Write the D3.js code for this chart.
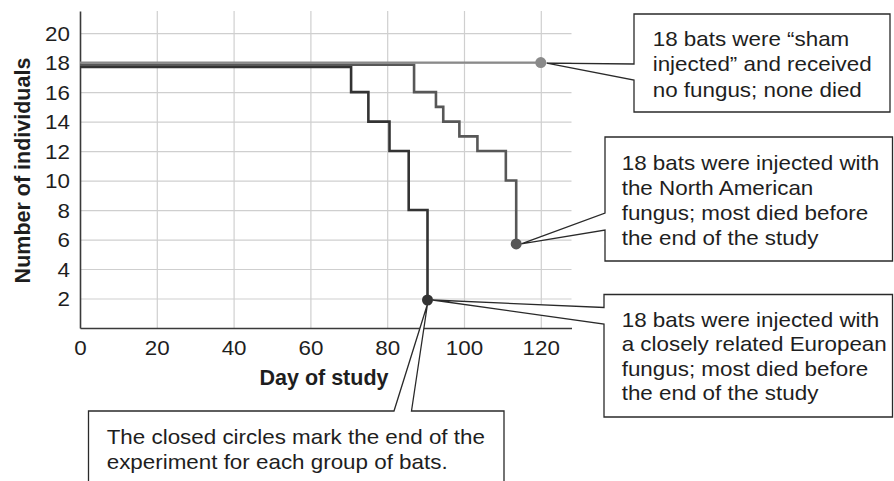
<!DOCTYPE html>
<html lang="en">
<head>
<meta charset="utf-8">
<title>Bat survival</title>
<script src="https://cdn.jsdelivr.net/npm/d3@7"></script>
<style>
    body { margin: 0; background: #fff; }
    text { font-family: "Liberation Sans", Arial, Helvetica, sans-serif; fill: #1e1e1e; }
    .grid line { stroke: #cfcfcf; stroke-width: 1.2; }
    .grid path { display: none; }
    .axis path { stroke: #3a3a3a; stroke-width: 1.6; }
    .box { fill: #fff; stroke: #2a2a2a; stroke-width: 1.3; }
</style>
</head>
<body>
<script>

    // tick values
    var xTicks = [0, 20, 40, 60, 80, 100, 120];
    var yTicks = [2, 4, 6, 8, 10, 12, 14, 16, 18, 20];

    // survival steps: [day, number of bats alive]
    var shamSteps = [[0, 18], [120, 18]];
    var northAmSteps = [[0, 17.85], [87, 16], [92.7, 15], [94.6, 14], [98.8, 13], [103.5, 12], [110.9, 10], [113.6, 5.7]];
    var europeSteps = [[0, 17.7], [70.6, 16], [75.1, 14], [80.6, 12], [85.6, 8], [90.5, 1.9]];

    // end of experiment for each group
    var endPoints = [
        {name: "sham", day: 120, n: 18},
        {name: "na", day: 113.6, n: 5.7},
        {name: "eu", day: 90.5, n: 1.9}
    ];

    var colors = {sham: "#8a8a8a", na: "#575757", eu: "#333333"};

    var W = 894, H = 481;
    var sx = 1.12; // the text in the figure is a bit wide

    var svg = d3.select("body").append("svg")
        .attr("width", W)
        .attr("height", H);

    var x = d3.scaleLinear().domain([0, 128]).range([80, 571.5]);
    var y = d3.scaleLinear().domain([0, 21.5]).range([328, 11]);

    // grid
    svg.append("g")
        .attr("class", "grid")
        .attr("transform", "translate(0," + y(0) + ")")
        .call(d3.axisBottom(x).tickValues(xTicks.slice(1)).tickSize(-(y(0) - y(21.5))).tickFormat(""));

    svg.append("g")
        .attr("class", "grid")
        .attr("transform", "translate(" + x(0) + ",0)")
        .call(d3.axisLeft(y).tickValues(yTicks).tickSize(-(x(128) - x(0))).tickFormat(""));

    // axes
    var xAxis = svg.append("g")
        .attr("class", "axis")
        .attr("transform", "translate(0," + y(0) + ")")
        .call(d3.axisBottom(x).tickValues(xTicks).tickSize(0).tickPadding(13).tickSizeOuter(0));

    var yAxis = svg.append("g")
        .attr("class", "axis")
        .attr("transform", "translate(" + x(0) + ",0)")
        .call(d3.axisLeft(y).tickValues(yTicks).tickSize(0).tickPadding(9).tickSizeOuter(0));

    svg.selectAll(".axis text")
        .attr("font-size", 20)
        .style("font-family", null)
        .attr("fill", "#1e1e1e")
        .attr("transform", "scale(" + sx + ",1)");

    yAxis.selectAll("text").attr("dy", "0.36em");

    // axis titles
    svg.append("text")
        .attr("x", 324)
        .attr("y", 385)
        .attr("text-anchor", "middle")
        .attr("font-size", 21.5)
        .attr("font-weight", "bold")
        .text("Day of study");

    svg.append("text")
        .attr("transform", "translate(29.5,170.5) rotate(-90)")
        .attr("text-anchor", "middle")
        .attr("font-size", 21.5)
        .attr("font-weight", "bold")
        .text("Number of individuals");

    // step lines
    var line = d3.line()
        .x(function (d) { return x(d[0]); })
        .y(function (d) { return y(d[1]); })
        .curve(d3.curveStepAfter);

    svg.append("path")
        .datum(europeSteps)
        .attr("d", line)
        .attr("fill", "none")
        .attr("stroke", colors.eu)
        .attr("stroke-width", 2.6);

    svg.append("path")
        .datum(northAmSteps)
        .attr("d", line)
        .attr("fill", "none")
        .attr("stroke", colors.na)
        .attr("stroke-width", 2.6);

    svg.append("path")
        .datum(shamSteps)
        .attr("d", line)
        .attr("fill", "none")
        .attr("stroke", colors.sham)
        .attr("stroke-width", 2.2);

    // callout boxes (drawn before the dots so the dots stay on top)
    function pt(name) {
        var e = endPoints.filter(function (d) { return d.name === name; })[0];
        return [x(e.day), y(e.n)];
    }

    var ps = pt("sham"), pn = pt("na"), pe = pt("eu");

    var boxes = [
        {
            path: "M634,14H890V112H634V80L" + (ps[0] + 6) + "," + (ps[1] + 0.5) + "L634,64Z",
            tx: 652.7, ty: 46, lh: 25.3,
            lines: ["18 bats were \u201csham", "injected\u201d and received", "no fungus; none died"]
        },
        {
            path: "M605,137H892.5V261H605V230L" + (pn[0] + 5) + "," + pn[1] + "L605,213Z",
            tx: 621.7, ty: 170, lh: 25,
            lines: ["18 bats were injected with", "the North American", "fungus; most died before", "the end of the study"]
        },
        {
            path: "M604,294.5H892.5V417H604V324L" + (pe[0] + 5) + "," + pe[1] + "L604,307.5Z",
            tx: 621.7, ty: 327, lh: 24.5,
            lines: ["18 bats were injected with", "a closely related European", "fungus; most died before", "the end of the study"]
        },
        {
            path: "M88.5,495V411H394L" + pe[0] + "," + (pe[1] + 4) + "L411.5,411H504V495",
            tx: 106.7, ty: 444, lh: 25.3,
            lines: ["The closed circles mark the end of the", "experiment for each group of bats."]
        }
    ];

    boxes.forEach(function (b) {
        svg.append("path")
            .attr("class", "box")
            .attr("d", b.path);

        var t = svg.append("text")
            .attr("transform", "translate(" + b.tx + "," + b.ty + ") scale(" + sx + ",1)")
            .attr("font-size", 20);

        t.selectAll("tspan")
            .data(b.lines)
            .enter()
            .append("tspan")
            .attr("x", 0)
            .attr("y", function (d, i) { return i * b.lh; })
            .text(function (d) { return d; });
    });

    // closed circles
    svg.selectAll("circle")
        .data(endPoints)
        .enter()
        .append("circle")
        .attr("cx", function (d) { return x(d.day); })
        .attr("cy", function (d) { return y(d.n); })
        .attr("r", 5.5)
        .attr("fill", function (d) { return colors[d.name]; });

</script>
</body>
</html>
